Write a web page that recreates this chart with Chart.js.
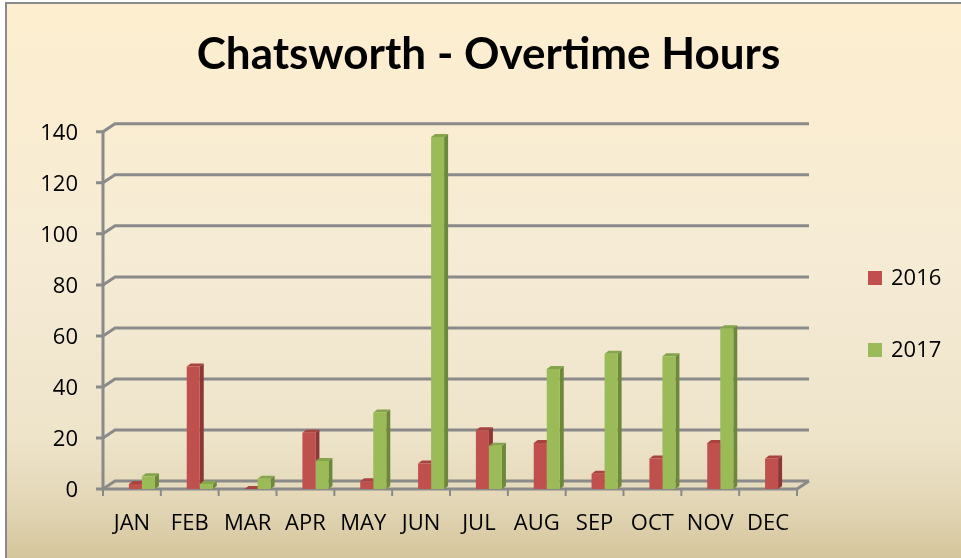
<!DOCTYPE html>
<html>
<head>
<meta charset="utf-8">
<title>Chatsworth - Overtime Hours</title>
<script src="https://cdn.jsdelivr.net/npm/chart.js@4.4.1/dist/chart.umd.min.js"></script>
<style>
html, body { margin: 0; padding: 0; background: #fff; }
#chart { display: block; }
</style>
</head>
<body>
<canvas id="chart" width="961" height="558"></canvas>
<script>
const months = ['JAN', 'FEB', 'MAR', 'APR', 'MAY', 'JUN', 'JUL', 'AUG', 'SEP', 'OCT', 'NOV', 'DEC'];
const hours2016 = [2, 48, 0, 22, 3, 10, 23, 18, 6, 12, 18, 12];
const hours2017 = [5, 2, 4, 11, 30, 138, 17, 47, 53, 52, 63, null];
const seriesNames = ['2016', '2017'];
const frontColors = ['#c0504d', '#9bbb59'];
const sideColors = ['#8b3735', '#6d883b'];
const topColors = ['#a84340', '#86a44b'];

const labelFont = { family: '"Open Sans", "Noto Sans", sans-serif', size: 22 };
const gridColor = '#8a8a8a';
const wall = { dx: 12, dy: -8 };   // back wall offset
const depth = { dx: 4, dy: -3 };   // bar thickness
const shift = 10;                  // front plane sits left of the bars

const backdrop = {
    id: 'backdrop',
    beforeDraw(chart) {
        const ctx = chart.ctx;
        const g = ctx.createLinearGradient(0, 0, 0, chart.height);
        g.addColorStop(0, '#fdeecf');
        g.addColorStop(0.5, '#f5ebd5');
        g.addColorStop(0.78, '#eee4ca');
        g.addColorStop(0.9, '#e3d7b7');
        g.addColorStop(1, '#d5c59c');
        ctx.save();
        ctx.fillStyle = g;
        ctx.fillRect(6, 3, chart.width - 6, chart.height - 3);
        ctx.strokeStyle = '#8a8a8a';
        ctx.lineWidth = 2;
        ctx.beginPath();
        ctx.moveTo(6, chart.height);
        ctx.lineTo(6, 3);
        ctx.lineTo(chart.width, 3);
        ctx.stroke();
        ctx.restore();
    }
};

const walls = {
    id: 'walls',
    beforeDatasetsDraw(chart) {
        const ctx = chart.ctx;
        const x = chart.scales.x, y = chart.scales.y;
        const half = (x.getPixelForValue(1) - x.getPixelForValue(0)) / 2;
        const frontLeft = x.getPixelForValue(0) - half - shift;
        const frontRight = x.getPixelForValue(months.length - 1) + half - shift;
        const base = y.getPixelForValue(0);
        ctx.save();
        ctx.strokeStyle = gridColor;
        ctx.lineWidth = 3;
        y.ticks.forEach(t => {
            const py = y.getPixelForValue(t.value);
            ctx.beginPath();
            ctx.moveTo(frontLeft - 7, py);
            ctx.lineTo(frontLeft, py);
            ctx.lineTo(frontLeft + wall.dx, py + wall.dy);
            ctx.lineTo(frontRight + wall.dx, py + wall.dy);
            ctx.stroke();
        });
        ctx.beginPath();
        ctx.moveTo(frontLeft, y.getPixelForValue(y.max));
        ctx.lineTo(frontLeft, base);
        ctx.lineTo(frontRight, base);
        ctx.lineTo(frontRight + wall.dx, base + wall.dy);
        ctx.stroke();
        ctx.lineWidth = 2;
        for (let i = 0; i <= months.length; i++) {
            const px = frontLeft + i * half * 2;
            ctx.beginPath();
            ctx.moveTo(px, base);
            ctx.lineTo(px, base + 7);
            ctx.stroke();
        }
        ctx.restore();

        // sides and tops of the bars, fronts come from the library
        chart.data.datasets.forEach((ds, di) => {
            const meta = chart.getDatasetMeta(di);
            meta.data.forEach((bar, i) => {
                if (ds.data[i] === null) return;
                const p = bar.getProps(['x', 'y', 'base', 'width'], true);
                const x0 = p.x - p.width / 2, x1 = p.x + p.width / 2;
                ctx.fillStyle = sideColors[di];
                ctx.beginPath();
                ctx.moveTo(x1, p.y);
                ctx.lineTo(x1 + depth.dx, p.y + depth.dy);
                ctx.lineTo(x1 + depth.dx, p.base + depth.dy);
                ctx.lineTo(x1, p.base);
                ctx.closePath();
                ctx.fill();
                ctx.fillStyle = topColors[di];
                ctx.beginPath();
                ctx.moveTo(x0, p.y);
                ctx.lineTo(x0 + depth.dx, p.y + depth.dy);
                ctx.lineTo(x1 + depth.dx, p.y + depth.dy);
                ctx.lineTo(x1, p.y);
                ctx.closePath();
                ctx.fill();
            });
        });
    }
};

const sideLegend = {
    id: 'sideLegend',
    afterDraw(chart) {
        const ctx = chart.ctx;
        ctx.save();
        ctx.font = labelFont.size + 'px ' + labelFont.family;
        ctx.textBaseline = 'middle';
        ctx.textAlign = 'left';
        chart.data.datasets.forEach((ds, i) => {
            const top = 271 + i * 72;
            ctx.fillStyle = ds.backgroundColor;
            ctx.fillRect(868, top, 14, 14);
            ctx.fillStyle = '#000';
            ctx.fillText(ds.label, 891, top + 8);
        });
        ctx.restore();
    }
};

new Chart(document.getElementById('chart'), {
    type: 'bar',
    data: {
        labels: months,
        datasets: [
            { label: seriesNames[0], data: hours2016, backgroundColor: frontColors[0] },
            { label: seriesNames[1], data: hours2017, backgroundColor: frontColors[1] }
        ]
    },
    options: {
        responsive: false,
        animation: false,
        categoryPercentage: 0.45,
        barPercentage: 1.0,
        layout: { padding: { left: 16, right: 0, top: 0, bottom: 0 } },
        plugins: {
            legend: { display: false },
            tooltip: { enabled: false },
            title: {
                display: true,
                text: 'Chatsworth - Overtime Hours',
                color: '#000',
                font: { family: 'Lato, "Open Sans", sans-serif', size: 44, weight: 'bold' },
                padding: { top: 28, bottom: 51 }
            }
        },
        scales: {
            x: {
                grid: { display: false, drawTicks: false },
                border: { display: false },
                ticks: { color: '#000', font: labelFont, padding: 22, labelOffset: -shift, maxRotation: 0, autoSkip: false },
                afterFit(s) { s.height = 69; }
            },
            y: {
                min: 0,
                max: 140,
                grid: { display: false, drawTicks: false },
                border: { display: false },
                ticks: { stepSize: 20, color: '#000', font: labelFont, padding: 35, labelOffset: 2 },
                afterFit(s) { s.width = 97; }
            },
            legendSpace: {
                type: 'linear',
                position: 'right',
                grid: { display: false, drawTicks: false },
                border: { display: false },
                ticks: { display: false },
                afterFit(s) { s.width = 154; }
            }
        }
    },
    plugins: [backdrop, walls, sideLegend]
});
</script>
</body>
</html>
